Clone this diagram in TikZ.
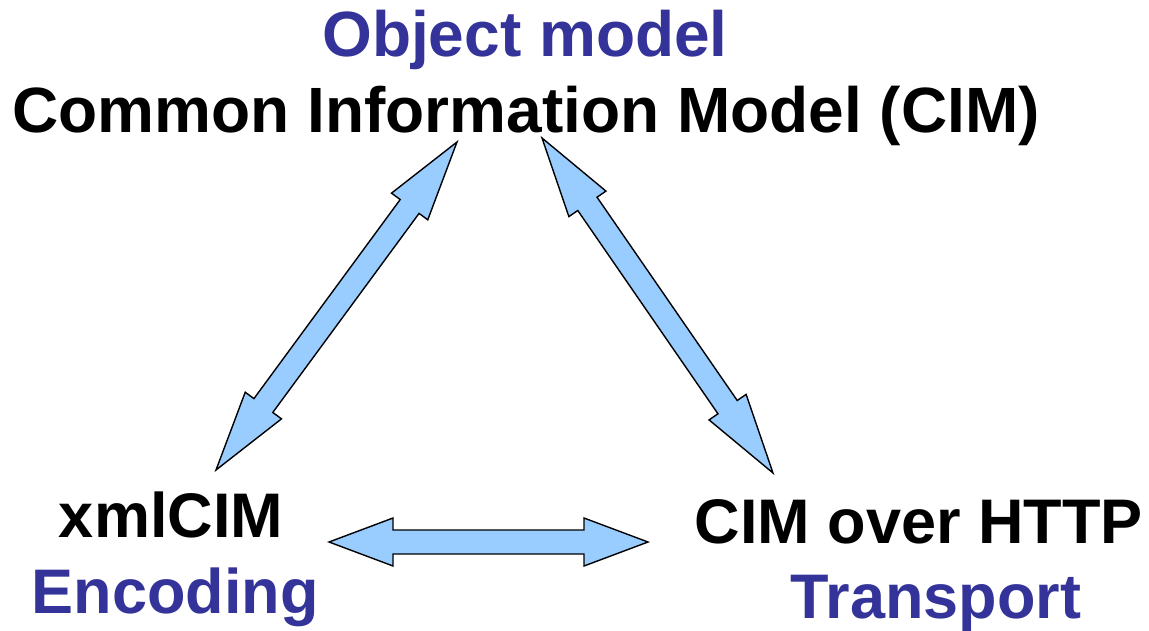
\documentclass[tikz,border=0pt]{standalone}
\usepackage{fontspec}
\setmainfont{Liberation Sans}
\usetikzlibrary{calc}
\definecolor{labelblue}{RGB}{51,51,153}
\definecolor{arrowfill}{RGB}{153,204,255}
\tikzset{
  bigtext/.style={font=\bfseries\fontsize{64}{76}\selectfont, inner sep=0pt, anchor=base},
  smalltext/.style={font=\bfseries\fontsize{63}{75}\selectfont, inner sep=0pt, anchor=base},
  bluetext/.style={text=labelblue},
  blacktext/.style={text=black},
  fatarrow/.style={draw=black, fill=arrowfill, line width=1.4pt, line join=miter}
}
\newcommand\dblarrow[5]{%
  \coordinate (da1) at ($(#1)!#3!(#2)$);
  \coordinate (da2) at ($(#2)!#3!(#1)$);
  \draw[fatarrow] (#1) -- ($(da1)!#4!90:(#2)$) -- ($(da1)!#5!90:(#2)$)
    -- ($(da2)!#5!90:(#2)$) -- ($(da2)!#4!90:(#2)$) -- (#2)
    -- ($(da2)!#4!-90:(#2)$) -- ($(da2)!#5!-90:(#2)$)
    -- ($(da1)!#5!-90:(#2)$) -- ($(da1)!#4!-90:(#2)$) -- cycle;
}
\begin{document}
\begin{tikzpicture}[x=1pt,y=-1pt]
\useasboundingbox (0,0) rectangle (1149,631);
\node[bigtext,bluetext] (om) at (525,57) {Object model};
\node[bigtext,blacktext] (cim) at (526,133) {Common Information Model (CIM)};
\node[smalltext,blacktext] (xml) at (171,537) {xmlCIM};
\node[smalltext,bluetext] (enc) at (175,613) {Encoding};
\node[smalltext,blacktext] (http) at (919,543) {CIM over HTTP};
\node[smalltext,bluetext] (tr) at (936,618) {Transport};
\coordinate (lt) at (457,142);
\coordinate (lb) at (216,470);
\coordinate (rt) at (542,138);
\coordinate (rb) at (773,473);
\coordinate (hl) at (329,542);
\coordinate (hr) at (648,542);
\dblarrow{lt}{lb}{80pt}{22.5pt}{11.7pt}
\dblarrow{rt}{rb}{80pt}{22.5pt}{11.7pt}
\dblarrow{hl}{hr}{64pt}{24pt}{12pt}
\end{tikzpicture}
\end{document}
